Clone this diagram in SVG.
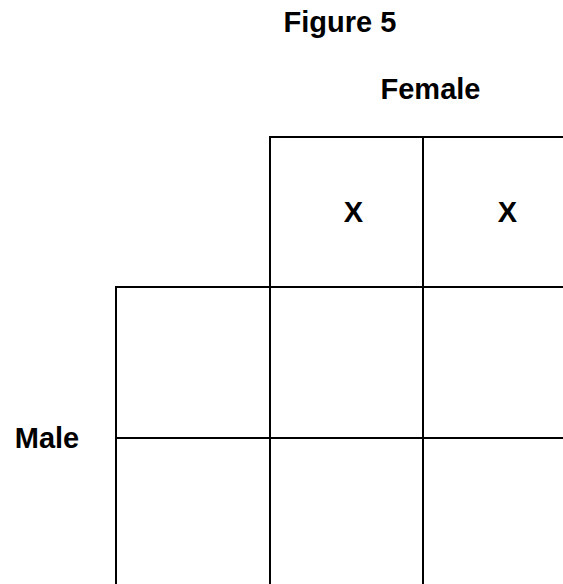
<svg xmlns="http://www.w3.org/2000/svg" width="563" height="584" viewBox="0 0 563 584">
<style>
.t{font-family:"Liberation Sans",Arial,sans-serif;font-weight:bold;font-size:29px;fill:#000;text-anchor:middle}
.g line{stroke:#000;stroke-width:2;fill:none}
</style>
<rect width="563" height="584" fill="#fff"/>
<g id="title"><text class="t" x="340" y="32">Figure 5</text></g>
<g id="female-label"><text class="t" x="430.5" y="99">Female</text></g>
<g id="male-label"><text class="t" x="47" y="448">Male</text></g>
<g id="x1"><text class="t" x="353.5" y="222">X</text></g>
<g id="x2"><text class="t" x="507.5" y="222">X</text></g>
<g id="grid" class="g">
<line x1="269" y1="137" x2="563" y2="137"/>
<line x1="115" y1="287" x2="563" y2="287"/>
<line x1="115" y1="438" x2="563" y2="438"/>
<line x1="116" y1="286" x2="116" y2="584"/>
<line x1="270" y1="136" x2="270" y2="584"/>
<line x1="423" y1="136" x2="423" y2="584"/>
</g>
</svg>
